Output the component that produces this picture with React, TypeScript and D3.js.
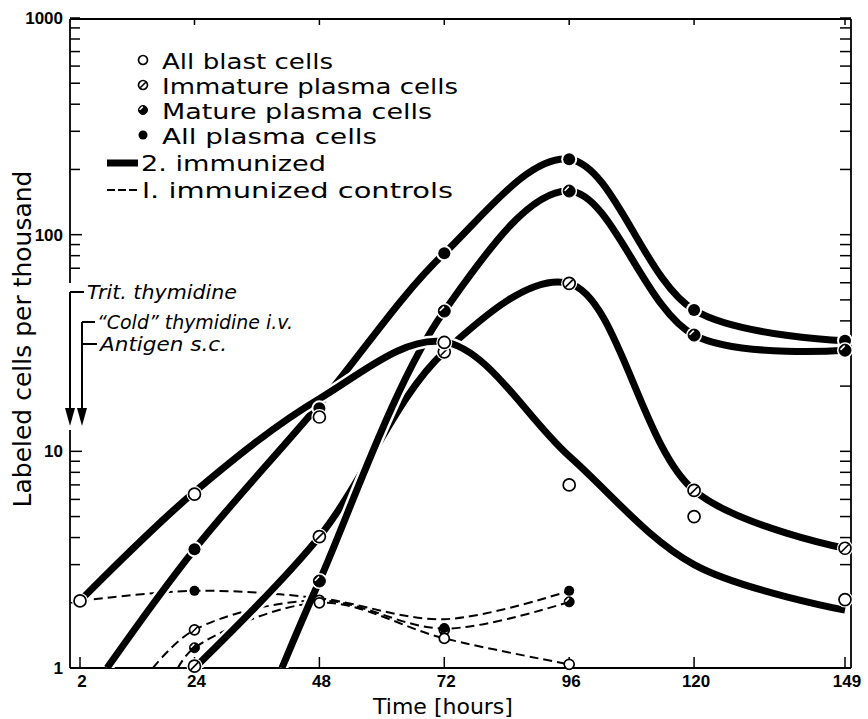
import React from 'react';
import * as d3 from 'd3';

const W = 868, H = 719;

// axis ticks
const hourTicks = [2, 24, 48, 72, 96, 120, 149];
const yTickLabels = [1, 10, 100, 1000];

// 2. immunized — drawn curves (hours, cells per thousand)
const blastCurveT = [2, 24, 48, 72, 96, 120, 149];
const blastCurveV = [2.04, 6.5, 17.5, 32, 9.5, 3.0, 1.85];
const immatureCurveT = [24, 48, 72, 96, 120, 149];
const immatureCurveV = [1.0, 4.04, 28.8, 59.6, 6.6, 3.57];
const matureCurveT = [40.8, 48, 72, 96, 120, 149];
const matureCurveV = [1.0, 2.52, 44.4, 159, 34.4, 29.3];
const plasmaCurveT = [7.2, 24, 48, 72, 96, 120, 149];
const plasmaCurveV = [1.0, 3.53, 16.5, 82, 223, 44.9, 32.4];

// 1. immunized controls — drawn curves
const ctrlACurveT = [2, 24, 48, 72, 96];
const ctrlACurveV = [2.04, 2.27, 2.1, 1.68, 2.27];
const ctrlBCurveT = [16, 24, 48, 72, 96];
const ctrlBCurveV = [1.0, 1.5, 2.05, 1.52, 2.02];
const ctrlCCurveT = [20.8, 24, 48, 72, 96];
const ctrlCCurveV = [1.0, 1.24, 2.0, 1.37, 1.04];

// observations, 2. immunized
const blastObsT = [2, 24, 48, 72, 96, 120, 149];
const blastObsV = [2.04, 6.35, 14.4, 31.8, 7.0, 5.0, 2.07];
const immatureObsT = [24, 48, 72, 96, 120, 149];
const immatureObsV = [1.02, 4.04, 28.8, 59.6, 6.6, 3.57];
const matureObsT = [48, 72, 96, 120, 149];
const matureObsV = [2.52, 44.4, 159, 34.4, 29.3];
const plasmaObsT = [24, 48, 72, 96, 120, 149];
const plasmaObsV = [3.53, 15.8, 82, 223, 44.9, 32.4];

// observations, controls
const ctrlBlastT = [48, 72, 96];
const ctrlBlastV = [2.0, 1.37, 1.04];
const ctrlImmatureT = [24, 48, 72];
const ctrlImmatureV = [1.5, 2.05, 1.5];
const ctrlMatureT = [24, 96];
const ctrlMatureV = [1.24, 2.02];
const ctrlPlasmaT = [24, 72, 96];
const ctrlPlasmaV = [2.27, 1.53, 2.27];

const legendLabels = ['All blast cells', 'Immature plasma cells', 'Mature plasma cells', 'All plasma cells'];
const legendKinds = ['open', 'hatched', 'mature', 'filled'];
const legendWidths = [171, 296, 270, 215];
const lineLegendLabels = ['2. immunized', 'l. immunized controls'];
const lineLegendWidths = [185, 311];

const annotations = ['Trit. thymidine', '\u201CCold\u201D thymidine i.v.', 'Antigen s.c.'];
const annotationWidths = [150, 196, 127];

const x = d3.scaleLinear().domain([2, 149]).range([80, 845]);
const y = d3.scaleLog().domain([1, 1000]).range([668, 18]);

const zip = (t: number[], v: number[]) => t.map((d, i) => [d, v[i]] as [number, number]);
const line = d3.line<[number, number]>()
  .x(d => x(d[0]))
  .y(d => y(d[1]))
  .curve(d3.curveCatmullRom.alpha(0.5));

const FONT = '"DejaVu Sans", sans-serif';

function Marker({ cx, cy, kind, r = 6, halo = 0 }: { cx: number; cy: number; kind: string; r?: number; halo?: number }) {
  const k = r * 0.62;
  return (
    <g transform={`translate(${cx},${cy})`}>
      {halo > 0 && <circle r={r + halo} fill="#fff" />}
      {kind === 'open' && <circle r={r} fill="#fff" stroke="#000" strokeWidth={1.7} />}
      {kind === 'hatched' && (
        <g>
          <circle r={r} fill="#fff" stroke="#000" strokeWidth={1.7} />
          <line x1={-k} y1={k} x2={k} y2={-k} stroke="#000" strokeWidth={1.6} />
        </g>
      )}
      {kind === 'mature' && (
        <g>
          <circle r={r} fill="#000" stroke="#000" strokeWidth={1} />
          <line x1={-r * 0.75} y1={-r * 0.05} x2={-r * 0.05} y2={-r * 0.75} stroke="#fff" strokeWidth={1.6} />
        </g>
      )}
      {kind === 'filled' && <circle r={r} fill="#000" />}
    </g>
  );
}

export default function App() {
  const L = 70, R = 851, T = 19, B = 668;
  const thick = [
    zip(immatureCurveT, immatureCurveV),
    zip(matureCurveT, matureCurveV),
    zip(plasmaCurveT, plasmaCurveV),
    zip(blastCurveT, blastCurveV),
  ];
  const dashed = [
    zip(ctrlACurveT, ctrlACurveV),
    zip(ctrlBCurveT, ctrlBCurveV),
    zip(ctrlCCurveT, ctrlCCurveV),
  ];
  const minor: number[] = [];
  for (let d = 1; d < 1000; d *= 10) for (let m = 2; m <= 10; m++) minor.push(d * m);

  const leftTicks = minor.filter(v => { const yy = y(v); return yy < 281 || yy > 432; });

  const thickObs: [number[], number[], string][] = [
    [plasmaObsT, plasmaObsV, 'filled'],
    [matureObsT, matureObsV, 'mature'],
    [immatureObsT, immatureObsV, 'hatched'],
    [blastObsT, blastObsV, 'open'],
  ];
  const ctrlObs: [number[], number[], string][] = [
    [ctrlImmatureT, ctrlImmatureV, 'hatched'],
    [ctrlMatureT, ctrlMatureV, 'mature'],
    [ctrlBlastT, ctrlBlastV, 'open'],
    [ctrlPlasmaT, ctrlPlasmaV, 'filled'],
  ];

  return (
    <svg width={W} height={H} viewBox={`0 0 ${W} ${H}`} style={{ position: 'absolute', left: 0, top: 0, background: '#fff' }}>
      <rect width={W} height={H} fill="#fff" />
      <defs>
        <clipPath id="plot"><rect x={L} y={T} width={R - L} height={B - T} /></clipPath>
      </defs>

      {/* frame */}
      <g stroke="#000" strokeWidth={1.8} fill="none">
        <line x1={L} y1={T} x2={R} y2={T} />
        <line x1={R} y1={T} x2={R} y2={B} />
        <line x1={L} y1={B} x2={R} y2={B} />
        <line x1={L} y1={T} x2={L} y2={283} />
        <line x1={L} y1={430} x2={L} y2={B} />
      </g>

      {/* ticks */}
      <g stroke="#000" strokeWidth={1.5}>
        {leftTicks.map(v => (
          <line key={'l' + v} x1={L} x2={L + (v === 10 || v === 100 ? 12 : 10)} y1={y(v)} y2={y(v)} />
        ))}
        {minor.map(v => (
          <line key={'r' + v} x1={R} x2={R - 11} y1={y(v)} y2={y(v)} />
        ))}
        {hourTicks.map(h => (
          <line key={'b' + h} x1={x(h)} x2={x(h)} y1={B} y2={B - 11} />
        ))}
        {hourTicks.slice(1).map(h => (
          <line key={'t' + h} x1={x(h)} x2={x(h)} y1={T} y2={T + 6} />
        ))}
      </g>

      {/* tick labels */}
      <g fontFamily='"Liberation Sans", sans-serif' fontWeight="bold" fontSize={17} fill="#000">
        {yTickLabels.map(v => (
          <text key={v} x={63} y={y(v)} dy="0.35em" textAnchor="end">{v}</text>
        ))}
        {hourTicks.map(h => (
          <text key={h} x={x(h) + 2} y={687} textAnchor="middle">{h}</text>
        ))}
      </g>

      {/* axis titles */}
      <text x={443} y={714} textAnchor="middle" fontFamily={FONT} fontSize={22}>Time [hours]</text>
      <text transform="translate(31,339) rotate(-90)" textAnchor="middle" fontFamily={FONT} fontSize={25}>Labeled cells per thousand</text>

      {/* curves */}
      <g clipPath="url(#plot)" fill="none">
        {dashed.map((d, i) => (
          <path key={'d' + i} d={line(d) || ''} stroke="#000" strokeWidth={2} strokeDasharray="9,5" />
        ))}
        {thick.map((d, i) => (
          <g key={'t' + i}>
            <path d={line(d) || ''} stroke="#fff" strokeWidth={12} />
            <path d={line(d) || ''} stroke="#000" strokeWidth={7} strokeLinecap="butt" />
          </g>
        ))}
      </g>

      {/* control markers */}
      {ctrlObs.map(([t, v, kind], i) => t.map((h, j) => (
        <Marker key={`c${i}-${j}`} cx={x(h)} cy={y(v[j])} kind={kind} r={5} />
      )))}
      {/* immunized markers */}
      {thickObs.map(([t, v, kind], i) => t.map((h, j) => (
        <Marker key={`o${i}-${j}`} cx={x(h)} cy={y(v[j])} kind={kind} r={6} halo={2} />
      )))}

      {/* annotation arrows */}
      <g stroke="#000" strokeWidth={2} fill="none">
        <line x1={70} y1={292} x2={70} y2={412} />
        <line x1={70} y1={292} x2={84} y2={292} />
        <line x1={82} y1={322} x2={82} y2={412} />
        <line x1={82} y1={322} x2={95} y2={322} />
        <line x1={82} y1={344} x2={97} y2={344} />
      </g>
      <g fill="#000">
        <path d="M65,408 L75,408 L70,426 Z" />
        <path d="M77,408 L87,408 L82,426 Z" />
      </g>
      <g fontFamily={FONT} fontStyle="italic" fontSize={19} fill="#000">
        <text x={87} y={299} textLength={annotationWidths[0]} lengthAdjust="spacingAndGlyphs">{annotations[0]}</text>
        <text x={97} y={329} textLength={annotationWidths[1]} lengthAdjust="spacingAndGlyphs">{annotations[1]}</text>
        <text x={100} y={351} textLength={annotationWidths[2]} lengthAdjust="spacingAndGlyphs">{annotations[2]}</text>
      </g>

      {/* legend */}
      <g fontFamily={FONT} fontSize={21} fill="#000">
        {legendLabels.map((lab, i) => (
          <g key={lab}>
            <Marker cx={143} cy={60 + i * 25} kind={legendKinds[i]} r={4.5} />
            <text x={162} y={62 + i * 25} dy="0.35em" textLength={legendWidths[i]} lengthAdjust="spacingAndGlyphs">{lab}</text>
          </g>
        ))}
        <line x1={107} x2={138} y1={163} y2={163} stroke="#000" strokeWidth={7} />
        <text x={141} y={164} dy="0.35em" textLength={lineLegendWidths[0]} lengthAdjust="spacingAndGlyphs">{lineLegendLabels[0]}</text>
        <line x1={107} x2={138} y1={190} y2={190} stroke="#000" strokeWidth={2} strokeDasharray="8,3" />
        <text x={142} y={191} dy="0.35em" textLength={lineLegendWidths[1]} lengthAdjust="spacingAndGlyphs">{lineLegendLabels[1]}</text>
      </g>
    </svg>
  );
}
